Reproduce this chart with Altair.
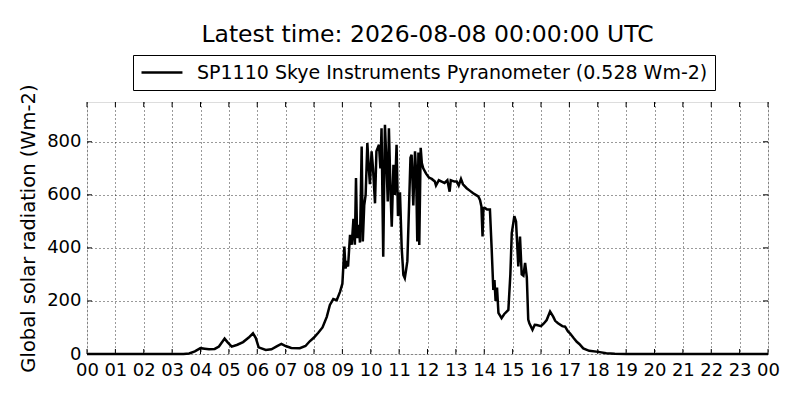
import altair as alt
import pandas as pd

hours = [0.0, 3.4, 3.6, 3.8, 4.0, 4.15, 4.3, 4.5, 4.65, 4.85, 4.95, 5.1, 5.3, 5.5, 5.7, 5.85, 5.95, 6.05,
         6.3, 6.5, 6.7, 6.85, 7.0, 7.2, 7.5, 7.7, 7.85, 8.0, 8.15, 8.3, 8.45, 8.56, 8.68, 8.8, 8.92, 9.0,
         9.03, 9.07, 9.11, 9.16, 9.2, 9.27, 9.33, 9.39, 9.44, 9.48, 9.52, 9.58, 9.62, 9.68, 9.72, 9.77,
         9.82, 9.88, 9.92, 9.97, 10.03, 10.08, 10.15, 10.2, 10.29, 10.34, 10.38, 10.44, 10.5, 10.56,
         10.6, 10.64, 10.7, 10.74, 10.8, 10.85, 10.91, 10.96, 11.03, 11.09, 11.15, 11.2, 11.25, 11.29,
         11.35, 11.4, 11.44, 11.5, 11.56, 11.6, 11.64, 11.68, 11.71, 11.76, 11.8, 11.85, 11.95, 12.05,
         12.15, 12.26, 12.3, 12.4, 12.5, 12.6, 12.7, 12.78, 12.82, 12.95, 13.03, 13.1, 13.18, 13.25,
         13.38, 13.5, 13.61, 13.7, 13.79, 13.85, 13.9, 13.94, 13.97, 14.03, 14.1, 14.2, 14.26, 14.32,
         14.36, 14.4, 14.45, 14.5, 14.61, 14.7, 14.85, 14.92, 14.97, 15.06, 15.12, 15.2, 15.26, 15.32,
         15.38, 15.44, 15.5, 15.55, 15.59, 15.7, 15.78, 15.85, 16.0, 16.1, 16.2, 16.32, 16.43, 16.5,
         16.6, 16.75, 16.85, 16.95, 17.02, 17.15, 17.26, 17.35, 17.49, 17.7, 18.02, 18.3, 18.6, 19.0, 24.0]

radiation = [0, 0, 2, 10, 22, 20, 18, 19, 28, 58, 45, 28, 35, 45, 62, 78, 60, 25,
             15, 18, 30, 38, 30, 23, 22, 30, 48, 62, 80, 100, 140, 185, 207, 203, 235, 265,
             323, 405, 323, 340, 330, 449, 412, 510, 412, 663, 437, 487, 420, 782, 424, 560,
             600, 795, 720, 640, 764, 700, 568, 764, 789, 700, 851, 367, 864, 700,
             575, 851, 600, 480, 713, 600, 789, 520, 610, 400, 298, 286, 320, 350,
             560, 740, 751, 560, 764, 680, 424, 760, 411, 777, 720, 700, 680, 665,
             660, 650, 635, 655, 650, 645, 655, 612, 655, 650, 650, 635, 660, 640,
             625, 615, 606, 600, 594, 581, 556, 443, 550, 550, 545, 545, 400, 241,
             279, 200, 250, 155, 135, 150, 166, 300, 456, 520, 500, 330, 443, 300,
             295, 343, 290, 130, 116, 91, 110, 109, 105, 115, 128, 160, 141, 125,
             116, 105, 103, 85, 78, 60, 46, 38, 21, 12, 8, 3, 1, 0, 0]

series_name = "SP1110 Skye Instruments Pyranometer (0.528 Wm-2)"
title_text = "Latest time: 2026-08-08 00:00:00 UTC"
x_ticks = list(range(0, 25))
y_ticks = [0, 200, 400, 600, 800]

FONT = "DejaVu Sans"
W, H = 681, 252
TICK = 5

df = pd.DataFrame({"hour": hours, "rad": radiation, "series": [series_name] * len(hours)})
xt = pd.DataFrame({"hour": x_ticks})
yt = pd.DataFrame({"rad": y_ticks})

x_scale = alt.Scale(domain=[0, 24], nice=False, zero=False)
y_scale = alt.Scale(domain=[0, 950], nice=False)

x_axis = alt.Axis(values=x_ticks, title=None, domain=False, ticks=False,
                  labelExpr="(datum.value % 24 < 10 ? '0' : '') + (datum.value % 24)",
                  labelFontSize=18, labelFont=FONT, labelColor="black",
                  labelPadding=7, labelFlush=False,
                  grid=True, gridColor="black", gridDash=[1, 3], gridWidth=0.8, gridOpacity=1)
y_axis = alt.Axis(values=y_ticks, title="Global solar radiation (Wm-2)", domain=False, ticks=False,
                  titleFontSize=19.5, titleFont=FONT, titleFontWeight="normal", titleColor="black",
                  titlePadding=8,
                  labelFontSize=18, labelFont=FONT, labelColor="black", labelPadding=6,
                  labelFlush=False,
                  grid=True, gridColor="black", gridDash=[1, 3], gridWidth=0.8, gridOpacity=1)

line = alt.Chart(df).mark_line(strokeWidth=2.5, color="black").encode(
    x=alt.X("hour:Q", scale=x_scale, axis=x_axis),
    y=alt.Y("rad:Q", scale=y_scale, axis=y_axis),
    color=alt.Color("series:N",
                    scale=alt.Scale(range=["black"]),
                    legend=alt.Legend(orient="none", legendX=46, legendY=-47, title=None,
                                      strokeColor="black", padding=7, fillColor="white",
                                      symbolType="M-1,0L3.55,0", symbolSize=324, symbolStrokeWidth=2.5,
                                      symbolStrokeColor="black", symbolFillColor="transparent",
                                      labelFontSize=19, labelFont=FONT, labelColor="black",
                                      labelOffset=36, labelLimit=1000)),
)

top_ticks = alt.Chart(xt).mark_rule(color="black", strokeWidth=1).encode(
    x=alt.X("hour:Q", scale=x_scale, axis=x_axis),
    y=alt.value(0), y2=alt.value(TICK))
bottom_ticks = alt.Chart(xt).mark_rule(color="black", strokeWidth=1).encode(
    x=alt.X("hour:Q", scale=x_scale, axis=x_axis),
    y=alt.value(H - TICK), y2=alt.value(H))
left_ticks = alt.Chart(yt).mark_rule(color="black", strokeWidth=1).encode(
    y=alt.Y("rad:Q", scale=y_scale, axis=y_axis),
    x=alt.value(0), x2=alt.value(TICK))
right_ticks = alt.Chart(yt).mark_rule(color="black", strokeWidth=1).encode(
    y=alt.Y("rad:Q", scale=y_scale, axis=y_axis),
    x=alt.value(W - TICK), x2=alt.value(W))

chart = alt.layer(line, top_ticks, bottom_ticks, left_ticks, right_ticks).properties(
    width=W,
    height=H,
    title=alt.TitleParams(title_text, fontSize=23.5, font=FONT, fontWeight="normal", color="black",
                          anchor="middle", offset=8),
    autosize=alt.AutoSizeParams(type="none"),
    padding={"left": 79, "top": 94, "right": 20, "bottom": 30},
).configure_view(
    stroke="black", strokeWidth=1.2
).configure(background="white")

chart.save("out.html", embed_options={"renderer": "svg", "actions": False})
